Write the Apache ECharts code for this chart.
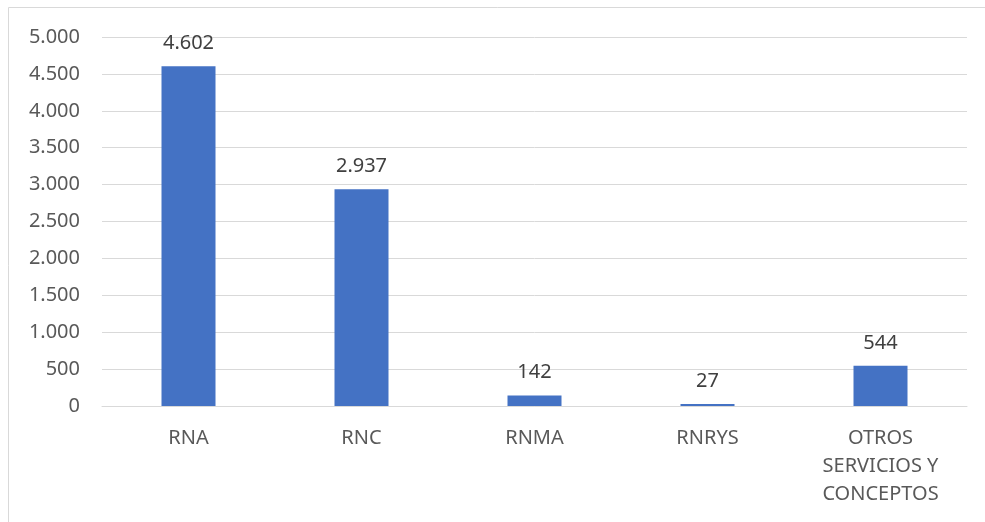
<!DOCTYPE html>
<html>
<head>
<meta charset="utf-8">
<style>
  html, body { margin: 0; padding: 0; background: #fff; }
  #chart { width: 985px; height: 522px; }
</style>
<script src="https://cdn.jsdelivr.net/npm/echarts@6/dist/echarts.min.js"></script>
</head>
<body>
<div id="chart"></div>
<script>
const categories = ['RNA', 'RNC', 'RNMA', 'RNRYS', 'OTROS\nSERVICIOS Y\nCONCEPTOS']
const values = [4602, 2937, 142, 27, 544]

// Spanish style thousands separator: 4.602
function fmt(v) {
  return String(v).replace(/\B(?=(\d{3})+(?!\d))/g, '.')
}

const chart = echarts.init(document.getElementById('chart'))
chart.setOption({
  animation: false,
  textStyle: { fontFamily: 'Noto Sans' },
  graphic: [
    {
      type: 'rect',
      shape: { x: 8.5, y: 7.5, width: 1000, height: 600 },
      style: { fill: 'none', stroke: '#d9d9d9', lineWidth: 1 },
      silent: true
    }
  ],
  grid: { left: 102, right: 18, top: 37, bottom: 116 },
  xAxis: {
    type: 'category',
    data: categories,
    axisLine: { lineStyle: { color: '#d9d9d9', width: 1 } },
    axisTick: { show: false },
    axisLabel: {
      color: '#595959',
      fontSize: 20,
      lineHeight: 28,
      margin: 18,
      interval: 0
    }
  },
  yAxis: {
    type: 'value',
    min: 0,
    max: 5000,
    interval: 500,
    axisLine: { show: false },
    axisTick: { show: false },
    splitLine: { lineStyle: { color: '#d9d9d9', width: 1 } },
    axisLabel: {
      color: '#595959',
      fontSize: 20,
      margin: 22,
      formatter: fmt
    }
  },
  series: [
    {
      type: 'bar',
      data: values,
      barWidth: 54,
      itemStyle: { color: '#4472c4' },
      label: {
        show: true,
        position: 'top',
        distance: 13,
        color: '#404040',
        fontSize: 20,
        formatter: p => fmt(p.value)
      }
    }
  ]
})
</script>
</body>
</html>
